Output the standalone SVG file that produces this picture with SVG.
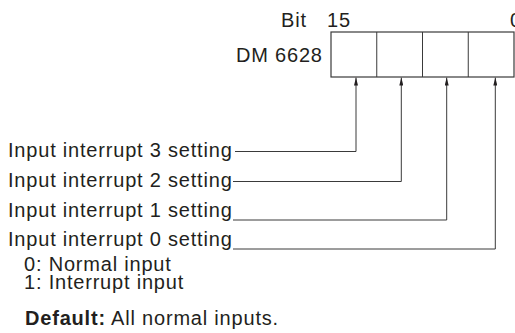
<svg xmlns="http://www.w3.org/2000/svg" width="515" height="333" viewBox="0 0 515 333">
<defs>
<style>
text{font-family:"Liberation Sans",Arial,Helvetica,sans-serif;font-size:20px;fill:#231f20;letter-spacing:0.8px}
.b{font-weight:bold}
.ln{fill:none;stroke:#3a3a3a;stroke-width:1}
.box{fill:#fff;stroke:#3a3a3a;stroke-width:1.2}
</style>
<marker id="ah" viewBox="0 0 8 4" refX="8" refY="2" markerWidth="8" markerHeight="4" markerUnits="userSpaceOnUse" orient="auto">
<path d="M0,0 L8,2 L0,4 Z" fill="#231f20"/>
</marker>
</defs>
<rect width="515" height="333" fill="#fff"/>
<g id="register">
<text x="281" y="26.5">Bit</text>
<text x="327" y="26.5">15</text>
<text x="510" y="26.5">0</text>
<text x="236" y="62">DM 6628</text>
<rect class="box" x="331" y="32" width="183" height="45"/>
<line class="ln" x1="376.75" y1="32" x2="376.75" y2="77"/>
<line class="ln" x1="422.5" y1="32" x2="422.5" y2="77"/>
<line class="ln" x1="468.25" y1="32" x2="468.25" y2="77"/>
</g>
<g id="label3"><text x="8" y="157">Input interrupt 3 setting</text></g>
<g id="label2"><text x="8" y="187">Input interrupt 2 setting</text></g>
<g id="label1"><text x="8" y="216.5">Input interrupt 1 setting</text></g>
<g id="label0"><text x="8" y="246">Input interrupt 0 setting</text></g>
<g id="notes">
<text x="24" y="271">0: Normal input</text>
<text x="24" y="289">1: Interrupt input</text>
<text x="25" y="325">
<tspan class="b">Default:</tspan> All normal inputs.</text>
</g>
<g id="connectors">
<polyline class="ln" points="235,151.5 356,151.5 356,77.5" marker-end="url(#ah)"/>
<polyline class="ln" points="233,181.5 401.3,181.5 401.3,77.5" marker-end="url(#ah)"/>
<polyline class="ln" points="233,220 446.7,220 446.7,77.5" marker-end="url(#ah)"/>
<polyline class="ln" points="233,249 495.3,249 495.3,77.5" marker-end="url(#ah)"/>
</g>
</svg>
